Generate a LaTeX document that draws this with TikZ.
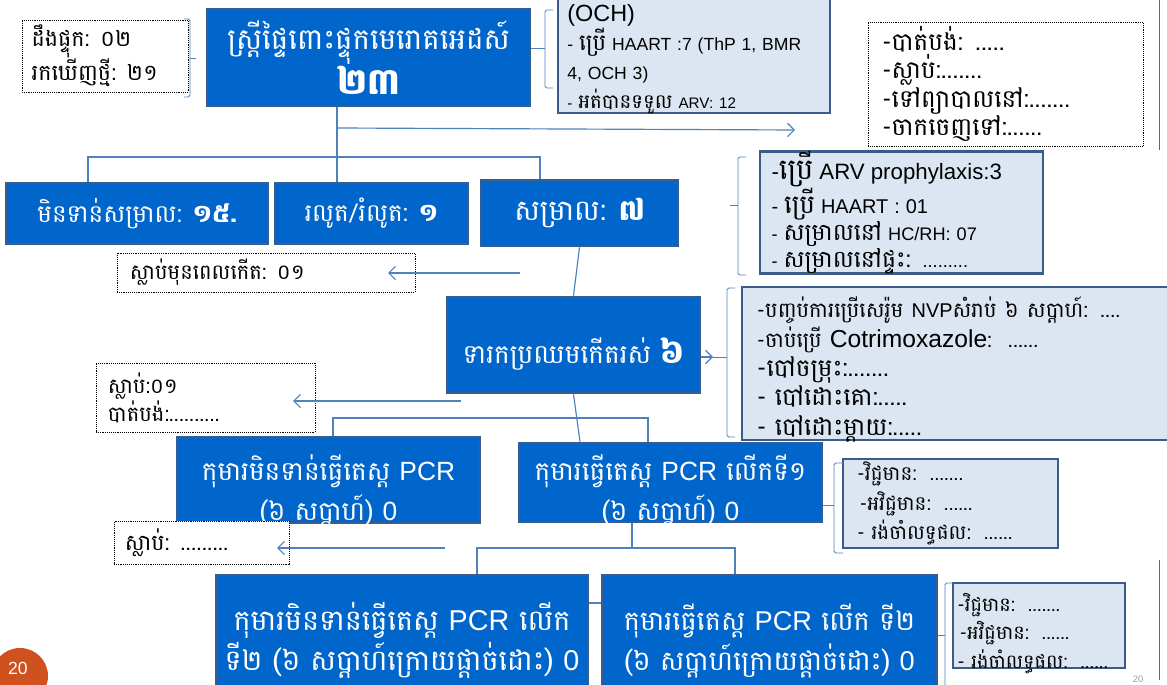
\documentclass[tikz,border=0pt]{standalone}
\usepackage{fontspec}
\setmainfont{Liberation Sans}
\newfontfamily\kh[Script=Khmer]{Battambang}
\newfontfamily\khs[Script=Khmer, Scale=1.3]{Battambang}
\usetikzlibrary{arrows.meta}
\definecolor{KBlue}{HTML}{0066CC}
\definecolor{KEdge}{HTML}{3B5C8A}
\definecolor{KPale}{HTML}{DCE6F2}
\definecolor{KLine}{HTML}{4F81BD}
\definecolor{KOrange}{HTML}{D0501E}
\newcommand\la[1]{{\rmfamily #1}}
\tikzset{
    boxsize/.style 2 args={minimum width=#1*0.03cm, minimum height=#2*0.03cm},
    baseat/.style={text height=#1, text depth=0pt},
    bluebox/.style={rectangle, draw=KEdge, fill=KBlue, line width=2.2pt, text=white, align=center, inner sep=0pt},
    notebox/.style={rectangle, draw=KEdge, fill=KPale, line width=2.4pt, align=left, inner sep=0pt},
    dotbox/.style={rectangle, draw=black, densely dotted, line width=0.6pt, fill=white, align=left, inner sep=0pt},
    link/.style={draw=KLine, line width=1pt},
    linkarrow/.style={link, -{Straight Barb[length=2mm, width=4mm]}},
    bracket/.style={draw=KLine, line width=0.8pt, rounded corners=1.5pt}
}

\begin{document}
\begin{tikzpicture}[x=0.03cm, y=-0.03cm]
    \useasboundingbox (0,0) rectangle (1167,685);
    \clip (0,0) rectangle (1167,685);

    % Nodes
    \node[dotbox, boxsize={166}{72}, text width=4.4cm, font=\kh\fontsize{19}{25.5}\selectfont] (found) at (105,56) {ដឹងផ្ទុក: ០២\\រកឃើញថ្មី: ២១};
    \node[bluebox, boxsize={323}{97}, font=\kh\fontsize{25}{33}\selectfont] (mother) at (368.5,57.5) {ស្ត្រីផ្ទៃពោះផ្ទុកមេរោគអេដស៍\\{\bfseries\fontsize{31}{33}\selectfont ២៣}};
    \node[notebox, boxsize={272}{125}, text width=7.6cm, text height=0.79cm, text depth=2.5cm, font=\fontsize{15}{24.5}\selectfont] (och) at (694,50.5) {{\fontsize{20}{22}\selectfont (OCH)}\\- {\khs ប្រើ} HAART :7 (ThP 1, BMR\\4, OCH 3)\\{\fontsize{13}{15}\selectfont - {\khs អត់បានទទួល} ARV: 12}};
    \node[dotbox, boxsize={275}{124}, text width=7.4cm, font=\kh\fontsize{21}{24}\selectfont] (outcome) at (1005.5,84) {-បាត់បង់: .....\\-ស្លាប់:.......\\-ទៅព្យាបាលនៅ:.......\\-ចាកចេញទៅ:......};

    \node[bluebox, boxsize={262}{61}, font=\kh\fontsize{21}{26}\selectfont] (notyet) at (137,213.5) {មិនទាន់សម្រាល: {\bfseries ១៥.}};
    \node[bluebox, boxsize={193}{61}, font=\kh\fontsize{21}{26}\selectfont] (abort) at (371.5,213.5) {រលូត/រំលូត: {\bfseries ១}};
    \node[bluebox, boxsize={197}{66}, font=\kh\fontsize{24.5}{28}\selectfont] (deliv) at (579.5,213) {សម្រាល: {\bfseries ៧}};
    \node[notebox, boxsize={283}{111}, text width=7.8cm, font=\fontsize{15.5}{23}\selectfont] (arv) at (901.5,212.5) {{\fontsize{19}{20}\selectfont -{\khs ប្រើ} ARV prophylaxis:3}\\{\fontsize{17}{18}\selectfont - {\khs ប្រើ} HAART : 01}\\- {\khs សម្រាលនៅ} HC/RH: 07\\- {\khs សម្រាលនៅផ្ទះ:}\ \ .........};
    \node[dotbox, boxsize={298}{39}, text width=8.16cm, font=\kh\fontsize{18}{20}\selectfont] (still) at (266,272.5) {ស្លាប់មុនពេលកើត: ០១};

    \node[bluebox, boxsize={253}{96}, baseat=1.14cm, font=\kh\fontsize{22.5}{28}\selectfont] (alive) at (573.5,345) {ទារកប្រឈមកើតរស់ {\bfseries\fontsize{28}{28}\selectfont ៦}};
    \node[notebox, boxsize={430}{153}, text width=12cm, text height=0.77cm, text depth=3.5cm, font=\kh\fontsize{21}{25}\selectfont] (feed) at (957,363.5) {{\fontsize{18}{20}\selectfont -បញ្ចប់ការប្រើសេរ៉ូម \la{\fontsize{17}{18}\selectfont NVP}សំរាប់ ៦ សប្តាហ៍: ....}\\{\fontsize{18}{20}\selectfont -ចាប់ប្រើ \la{\fontsize{21}{21}\selectfont Cotrimoxazole}:\ \ ......}\\-បៅចម្រុះ:.......\\- បៅដោះគោ:.....\\- បៅដោះម្តាយ:.....};
    \node[dotbox, boxsize={219}{69}, text width=5.85cm, font=\kh\fontsize{18}{24}\selectfont] (lost) at (205.5,397.5) {ស្លាប់:០១\\បាត់បង់:..........};

    \node[bluebox, boxsize={303}{86}, baseat=2.4cm, font=\kh\fontsize{22.5}{34}\selectfont] (nopcr) at (328.5,480) {កុមារមិនទាន់ធ្វើតេស្ត \la{PCR}\\(៦ សប្តាហ៍) \la{0}};
    \node[bluebox, boxsize={303}{79}, baseat=2.25cm, font=\kh\fontsize{22.5}{34}\selectfont] (pcr1) at (670.5,482.5) {កុមារធ្វើតេស្ត \la{PCR} លើកទី១\\(៦ សប្តាហ៍) \la{0}};
    \node[dotbox, boxsize={175}{43}, text width=4.6cm, font=\kh\fontsize{19}{20}\selectfont] (died) at (201.5,543) {ស្លាប់: .........};
    \node[notebox, boxsize={215}{89}, text width=5.6cm, font=\kh\fontsize{17}{25.5}\selectfont] (res1) at (950.5,503.5) {-វិជ្ជមាន:\ \ .......\\\hspace{2pt}-អវិជ្ជមាន:\ \ ......\\- រង់ចាំលទ្ធផល:\ \ ......};

    \node[bluebox, boxsize={372}{120}, baseat=2.1cm, font=\kh\fontsize{24.5}{34}\selectfont] (nopcr2) at (402,635) {កុមារមិនទាន់ធ្វើតេស្ត \la{PCR} លើក\\ទី២ (៦ សប្តាហ៍ក្រោយផ្តាច់ដោះ) \la{0}};
    \node[bluebox, boxsize={335}{120}, baseat=2.1cm, font=\kh\fontsize{23.2}{34}\selectfont] (pcr2) at (769.5,635) {កុមារធ្វើតេស្ត \la{PCR} លើក ទី២\\(៦ សប្តាហ៍ក្រោយផ្តាច់ដោះ) \la{0}};
    \node[notebox, boxsize={172}{85}, text width=4.9cm, text height=0.68cm, text depth=1.5cm, font=\kh\fontsize{16.5}{24}\selectfont] (res2) at (1039,625.5) {-វិជ្ជមាន:\ \ .......\\\hspace{2pt}-អវិជ្ជមាន:\ \ ......\\- រង់ចាំលទ្ធផល:\ \ ......};

    % Paths
    \coordinate (hub) at (337,157);
    \coordinate (outtip) at (795,130);
    \draw[link] (hub |- mother.south) -- (hub |- abort.north);
    \draw[link] (88,0 |- notyet.north) |- (540,157) -- (540,0 |- deliv.north);
    \draw[linkarrow] (hub |- 0,128) -- (outtip);
    \draw[link] (deliv.south) -- (alive.north);
    \draw[linkarrow] (520,273) -- (388,273);
    \draw[linkarrow] (alive.east |- 0,357) -- (713,357);
    \draw[linkarrow] (461,401) -- (293,401);
    \draw[link] (alive.south) -- (580,0 |- pcr1.north);
    \draw[link] (333,0 |- nopcr.north) |- (648,418) -- (648,0 |- pcr1.north);
    \draw[linkarrow] (445,548) -- (277,548);
    \draw[link] (632,0 |- pcr1.south) -- (632,548);
    \draw[link] (477,0 |- nopcr2.north) |- (735,548) -- (735,0 |- pcr2.north);
    \draw[link] (nopcr2.east |- 0,603) -- (pcr2.west |- 0,603);

    % Brackets
    \draw[bracket] (184,19) -- (190,19) -- (190,97) -- (184,97);
    \draw[bracket] (190,58) -- (196,58);
    \draw[bracket] (553,10) -| (545,88) -- (553,88);
    \draw[bracket] (mother.east |- 0,48) -- (545,48);
    \draw[bracket] (746,157) -| (738,275) -- (746,275);
    \draw[bracket] (738,205) -- (730,205);
    \draw[bracket] (735,288) -| (727,437) -- (735,437);
    \draw[bracket] (727,357) -- (713,357);
    \draw[bracket] (843,463) -| (834,553) -- (843,553);
    \draw[bracket] (pcr1.east |- 0,505) -- (834,505);
    \draw[bracket] (953,583) -| (945,700);
    \draw[bracket] (pcr2.east |- 0,635) -- (945,635);

    % Slide edge and page number
    \draw[black!60, line width=0.8pt] (1159,0) -- (1159,150);
    \draw[black!60, line width=0.8pt] (1159,560) -- (1159,680);
    \fill[KOrange] (20,676) circle (28);
    \node[text=white, font=\fontsize{15}{15}\selectfont] (pagenum) at (18,668) {20};
    \node[text=black!40, font=\fontsize{8}{8}\selectfont] (pageghost) at (1138,679) {20};
\end{tikzpicture}
\end{document}
